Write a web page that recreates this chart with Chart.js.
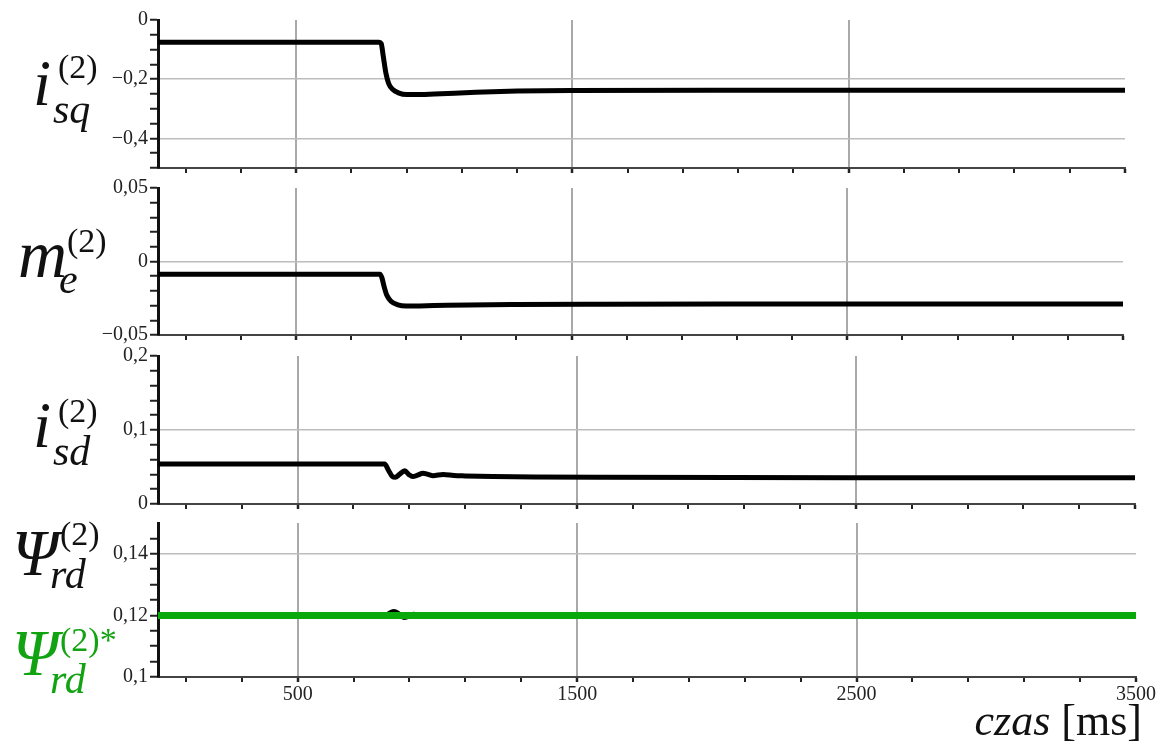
<!DOCTYPE html>
<html>
<head>
<meta charset="utf-8">
<script src="https://cdn.jsdelivr.net/npm/chart.js@4.4.1/dist/chart.umd.min.js"></script>
<style>
  html, body { margin: 0; padding: 0; background: #fff; }
  #page { position: relative; width: 1160px; height: 745px; overflow: hidden; }
  #page canvas { position: absolute; left: 0; top: 0; }
  .lbl { position: absolute; font-family: "Liberation Serif", "Times New Roman", serif; line-height: 1; white-space: nowrap; color: #111; }
  .it { font-style: italic; }
  .green { color: #12a312; }
  #xtitle { position: absolute; right: 18px; top: 699px; font-family: "Liberation Serif", serif; font-size: 44px; line-height: 1; color: #111; }
</style>
</head>
<body>
<div id="page">
  <canvas id="c1" width="1160" height="745"></canvas>
  <canvas id="c2" width="1160" height="745"></canvas>
  <canvas id="c3" width="1160" height="745"></canvas>
  <canvas id="c4" width="1160" height="745"></canvas>

  <div class="lbl it" style="left:33px; top:51px; font-size:65px;">i</div>
  <div class="lbl" style="left:58px; top:50px; font-size:34px;">(2)</div>
  <div class="lbl it" style="left:53px; top:88px; font-size:42px;">sq</div>

  <div class="lbl it" style="left:18px; top:220px; font-size:68px;">m</div>
  <div class="lbl" style="left:67px; top:224px; font-size:34px;">(2)</div>
  <div class="lbl it" style="left:59px; top:258px; font-size:42px;">e</div>

  <div class="lbl it" style="left:33px; top:393px; font-size:65px;">i</div>
  <div class="lbl" style="left:58px; top:394px; font-size:34px;">(2)</div>
  <div class="lbl it" style="left:53px; top:430px; font-size:42px;">sd</div>

  <div class="lbl it" style="left:12px; top:520px; font-size:66px;">&Psi;</div>
  <div class="lbl" style="left:60px; top:517px; font-size:34px;">(2)</div>
  <div class="lbl it" style="left:50px; top:553px; font-size:42px;">rd</div>

  <div class="lbl it green" style="left:12px; top:620px; font-size:66px;">&Psi;</div>
  <div class="lbl green" style="left:60px; top:623px; font-size:34px;">(2)*</div>
  <div class="lbl it green" style="left:50px; top:658px; font-size:42px;">rd</div>

  <div id="xtitle"><span class="it">czas</span> [ms]</div>
</div>
<script>
// time axis
const xTicks = [100, 300, 500, 700, 900, 1100, 1300, 1500, 1700, 1900, 2100, 2300, 2500, 2700, 2900, 3100, 3300, 3500];
const xLabels = [500, 1500, 2500, 3500];

// i_sq
const tIsq = [0, 800, 808, 815, 825, 835, 850, 870, 900, 930, 1000, 1150, 1300, 1500, 2000, 3500];
const isq = [-0.075, -0.075, -0.08, -0.12, -0.18, -0.215, -0.235, -0.246, -0.252, -0.252, -0.25, -0.244, -0.24, -0.238, -0.237, -0.237];

// m_e
const tMe = [0, 805, 812, 820, 830, 845, 870, 900, 950, 1050, 1300, 1600, 2500, 3500];
const me = [-0.0086, -0.0086, -0.011, -0.017, -0.023, -0.027, -0.0295, -0.0303, -0.0302, -0.0297, -0.0292, -0.029, -0.0289, -0.0289];

// i_sd
const tIsd = [0, 812, 825, 840, 850, 865, 884, 898, 913, 930, 949, 967, 985, 1022, 1060, 1100, 1200, 1350, 1600, 2500, 3500];
const isd = [0.054, 0.054, 0.046, 0.037, 0.036, 0.04, 0.045, 0.04, 0.037, 0.039, 0.0415, 0.04, 0.0383, 0.04, 0.0385, 0.038, 0.0372, 0.0365, 0.036, 0.0355, 0.0355];

// psi_rd and reference
const tPsi = [0, 815, 830, 845, 862, 880, 897, 915, 935, 955, 980, 3500];
const psi = [0.12, 0.12, 0.1208, 0.1213, 0.1205, 0.1193, 0.1197, 0.1204, 0.12, 0.1197, 0.12, 0.12];
const tPsiRef = [0, 3500];
const psiRef = [0.12, 0.12];

// y ticks per panel
const yTicks1 = [-0.5, -0.45, -0.4, -0.35, -0.3, -0.25, -0.2, -0.15, -0.1, -0.05, 0];
const yLabels1 = { '0': '0', '-0.2': '\u22120,2', '-0.4': '\u22120,4' };
const yGrid1 = [-0.2, -0.4];

const yTicks2 = [-0.05, -0.04, -0.03, -0.02, -0.01, 0, 0.01, 0.02, 0.03, 0.04, 0.05];
const yLabels2 = { '0.05': '0,05', '0': '0', '-0.05': '\u22120,05' };
const yGrid2 = [0];

const yTicks3 = [0, 0.02, 0.04, 0.06, 0.08, 0.1, 0.12, 0.14, 0.16, 0.18, 0.2];
const yLabels3 = { '0.2': '0,2', '0.1': '0,1', '0': '0' };
const yGrid3 = [0.1];

const yTicks4 = [0.1, 0.105, 0.11, 0.115, 0.12, 0.125, 0.13, 0.135, 0.14, 0.145];
const yLabels4 = { '0.14': '0,14', '0.12': '0,12', '0.1': '0,1' };
const yGrid4 = [0.14, 0.12];

const near = (a, b) => Math.abs(a - b) < 1e-9;
const pts = (t, v) => t.map((x, i) => ({ x: x, y: v[i] }));
const tickFont = { family: 'Liberation Serif', size: 20 };

function makePanel(id, area, y, datasets, showX) {
  const xh = showX ? 30 : 8;
  new Chart(document.getElementById(id), {
    type: 'line',
    data: { datasets: datasets },
    options: {
      responsive: false,
      animation: false,
      events: [],
      layout: { padding: { left: 0, top: area.top, right: 1160 - area.right, bottom: 745 - area.bottom - xh } },
      plugins: { legend: { display: false }, tooltip: { enabled: false } },
      elements: { point: { radius: 0 } },
      scales: {
        x: {
          type: 'linear', min: 0, max: 3500,
          afterBuildTicks: (axis) => { axis.ticks = xTicks.map(v => ({ value: v })); },
          afterFit: (axis) => { axis.height = xh; },
          border: { color: '#444', width: 2 },
          grid: {
            color: (c) => xLabels.slice(0, 3).includes(c.tick.value) ? '#a9a9a9' : 'rgba(0,0,0,0)',
            lineWidth: 2,
            tickColor: '#222',
            tickWidth: (c) => xLabels.includes(c.tick.value) ? 2.5 : 2,
            tickLength: 5
          },
          ticks: {
            display: showX, autoSkip: false, maxRotation: 0, padding: 1,
            color: '#222', font: tickFont,
            callback: (v) => xLabels.includes(v) ? String(v) : ''
          }
        },
        y: {
          type: 'linear', min: y.min, max: y.max,
          afterBuildTicks: (axis) => { axis.ticks = y.ticks.map(v => ({ value: v })); },
          afterFit: (axis) => { axis.width = 158; },
          border: { color: '#111', width: 3 },
          grid: {
            color: (c) => y.grid.some(g => near(g, c.tick.value)) ? '#bdbdbd' : 'rgba(0,0,0,0)',
            lineWidth: 1.5,
            tickColor: '#222',
            tickWidth: 2,
            tickLength: 8
          },
          ticks: {
            autoSkip: false, padding: 2, color: '#222', font: tickFont,
            callback: (v) => {
              const k = Object.keys(y.labels).find(s => near(parseFloat(s), v));
              return k !== undefined ? y.labels[k] : '';
            }
          }
        }
      }
    }
  });
}

const blackLine = (t, v) => ({
  data: pts(t, v), borderColor: '#000', borderWidth: 5,
  cubicInterpolationMode: 'monotone', borderJoinStyle: 'round', borderCapStyle: 'butt'
});

makePanel('c1', { top: 20, bottom: 168, right: 1125 },
  { min: -0.5, max: 0, ticks: yTicks1, labels: yLabels1, grid: yGrid1 },
  [blackLine(tIsq, isq)], false);

makePanel('c2', { top: 188, bottom: 335, right: 1123 },
  { min: -0.05, max: 0.05, ticks: yTicks2, labels: yLabels2, grid: yGrid2 },
  [blackLine(tMe, me)], false);

makePanel('c3', { top: 356, bottom: 504, right: 1135 },
  { min: 0, max: 0.2, ticks: yTicks3, labels: yLabels3, grid: yGrid3 },
  [blackLine(tIsd, isd)], false);

makePanel('c4', { top: 523, bottom: 677, right: 1136 },
  { min: 0.1, max: 0.15, ticks: yTicks4, labels: yLabels4, grid: yGrid4 },
  [
    { data: pts(tPsiRef, psiRef), borderColor: '#0aa80a', borderWidth: 7, borderCapStyle: 'butt' },
    blackLine(tPsi, psi)
  ], true);
</script>
</body>
</html>
